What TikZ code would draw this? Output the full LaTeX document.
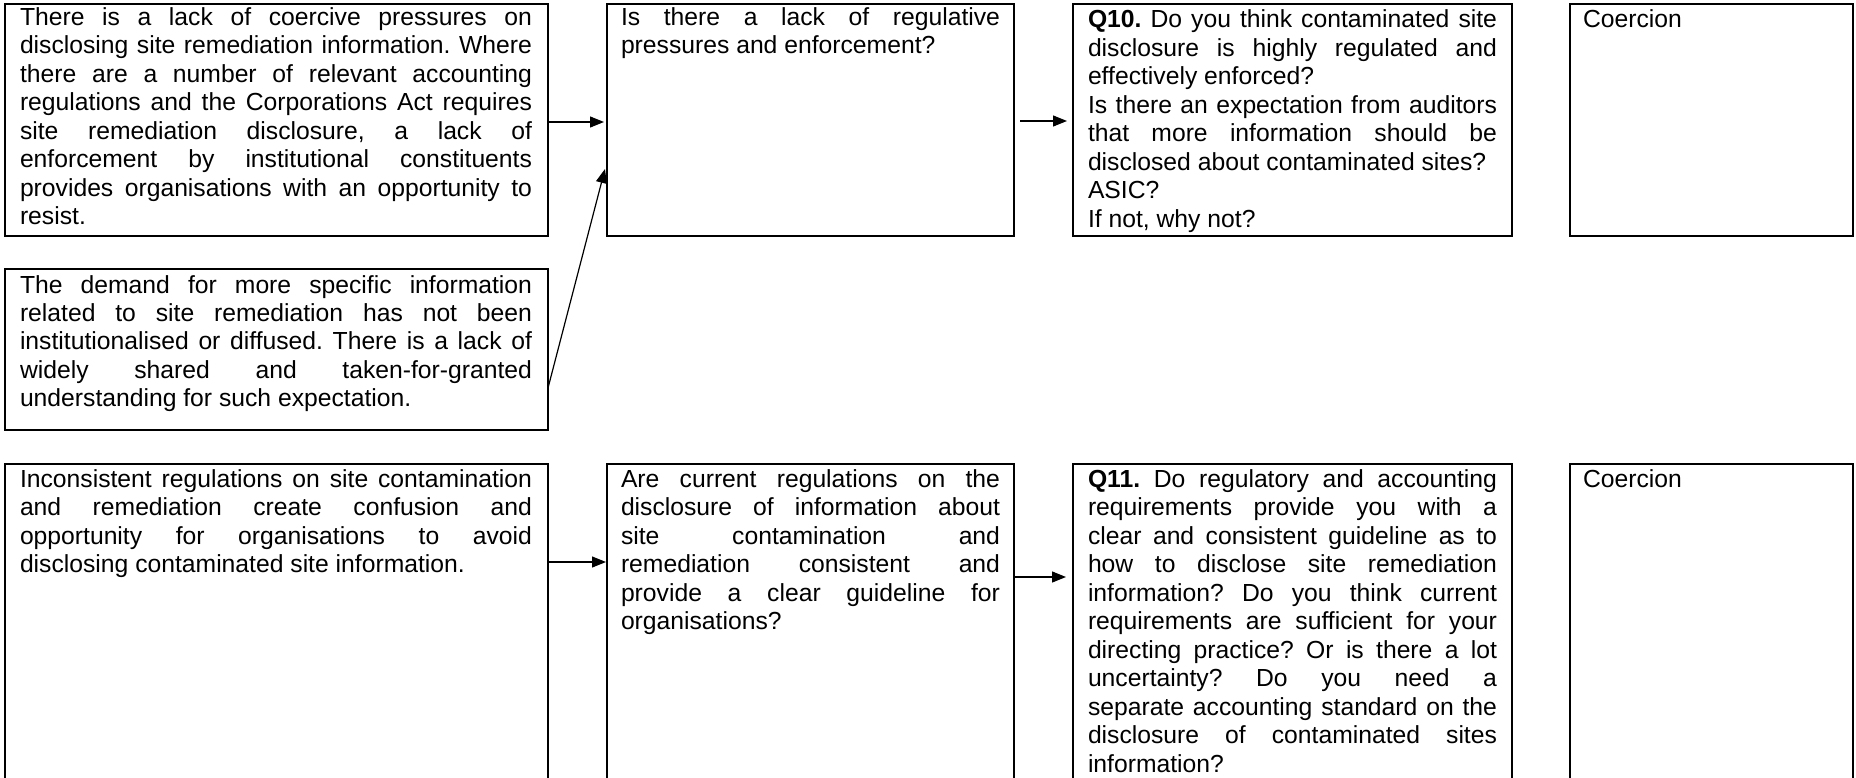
\documentclass[tikz,border=0pt]{standalone}
\usepackage{fontspec}
\setmainfont{Liberation Sans}
\usetikzlibrary{arrows.meta,calc}

% body text size and line pitch
\newcommand\boxfont{\fontsize{24.7pt}{28.5pt}\selectfont\parindent0pt\frenchspacing}
% a justified line, and a final (ragged) line of a paragraph
\newcommand\fulline[1]{\makebox[\linewidth][s]{#1}\par}
\newcommand\lastline[1]{\mbox{#1}\par}

\tikzset{
  cell/.style={draw, line width=1.6pt, anchor=north west, inner sep=0pt, outer sep=0pt},
  txt/.style={anchor=base west, inner sep=0pt, outer sep=0pt},
  arr/.style={line width=1.2pt, -{Triangle[length=14pt,width=11pt]}}
}

\begin{document}
\begin{tikzpicture}[x=1pt, y=-1pt]
\useasboundingbox (0,0) rectangle (1856,778);
\fill[white] (0,0) rectangle (1856,778);
\clip (0,0) rectangle (1856,778);

% ---- boxes ----
\node[cell, minimum width=543pt, minimum height=232pt] (A1) at (5,4) {};
\node[cell, minimum width=407pt, minimum height=232pt] (B1) at (607,4) {};
\node[cell, minimum width=439pt, minimum height=232pt] (C1) at (1073,4) {};
\node[cell, minimum width=283pt, minimum height=232pt] (D1) at (1570,4) {};
\node[cell, minimum width=543pt, minimum height=161pt] (A2) at (5,269) {};
\node[cell, minimum width=543pt, minimum height=330pt] (A3) at (5,464) {};
\node[cell, minimum width=407pt, minimum height=330pt] (B3) at (607,464) {};
\node[cell, minimum width=439pt, minimum height=330pt] (C3) at (1073,464) {};
\node[cell, minimum width=283pt, minimum height=330pt] (D3) at (1570,464) {};

% ---- texts ----
\node[txt] (tA1) at (20,25.5) {\begin{minipage}[t]{512pt}\boxfont
\fulline{There is a lack of coercive pressures on}
\fulline{disclosing site remediation information. Where}
\fulline{there are a number of relevant accounting}
\fulline{regulations and the Corporations Act requires}
\fulline{site remediation disclosure, a lack of}
\fulline{enforcement by institutional constituents}
\fulline{provides organisations with an opportunity to}
\lastline{resist.}
\end{minipage}};

\node[txt] (tB1) at (621,25.5) {\begin{minipage}[t]{379pt}\boxfont
\fulline{Is there a lack of regulative}
\lastline{pressures and enforcement?}
\end{minipage}};

\node[txt] (tC1) at (1088,28) {\begin{minipage}[t]{409pt}\boxfont
\fulline{\textbf{Q10.} Do you think contaminated site}
\fulline{disclosure is highly regulated and}
\lastline{effectively enforced?}
\fulline{Is there an expectation from auditors}
\fulline{that more information should be}
\lastline{disclosed about contaminated sites?}
\lastline{ASIC?}
\lastline{If not, why not?}
\end{minipage}};

\node[txt] (tD1) at (1583,28) {\boxfont Coercion};

\node[txt] (tA2) at (20,293) {\begin{minipage}[t]{512pt}\boxfont
\fulline{The demand for more specific information}
\fulline{related to site remediation has not been}
\fulline{institutionalised or diffused. There is a lack of}
\fulline{widely shared and taken-for-granted}
\lastline{understanding for such expectation.}
\end{minipage}};

\node[txt] (tA3) at (20,487) {\begin{minipage}[t]{512pt}\boxfont
\fulline{Inconsistent regulations on site contamination}
\fulline{and remediation create confusion and}
\fulline{opportunity for organisations to avoid}
\lastline{disclosing contaminated site information.}
\end{minipage}};

\node[txt] (tB3) at (621,487) {\begin{minipage}[t]{379pt}\boxfont
\fulline{Are current regulations on the}
\fulline{disclosure of information about}
\fulline{site contamination and}
\fulline{remediation consistent and}
\fulline{provide a clear guideline for}
\lastline{organisations?}
\end{minipage}};

\node[txt] (tC3) at (1088,487) {\begin{minipage}[t]{409pt}\boxfont
\fulline{\textbf{Q11.} Do regulatory and accounting}
\fulline{requirements provide you with a}
\fulline{clear and consistent guideline as to}
\fulline{how to disclose site remediation}
\fulline{information? Do you think current}
\fulline{requirements are sufficient for your}
\fulline{directing practice? Or is there a lot}
\fulline{uncertainty? Do you need a}
\fulline{separate accounting standard on the}
\fulline{disclosure of contaminated sites}
\lastline{information?}
\end{minipage}};

\node[txt] (tD3) at (1583,487) {\boxfont Coercion};

% ---- connectors ----
\draw[arr] ($(A1.north east)+(0,118)$) -- ($(B1.north west)+(-3,118)$);
\draw[arr] ($(A2.north east)+(0,119)$) -- ($(B1.north west)+(-2,165)$);
\draw[arr] ($(B1.north east)+(6,117)$) -- ($(C1.north west)+(-6,117)$);
\draw[arr] ($(A3.north east)+(0,98)$) -- ($(B3.north west)+(-1,98)$);
\draw[arr] ($(B3.north east)+(0,113)$) -- ($(C3.north west)+(-7,113)$);
\end{tikzpicture}
\end{document}
